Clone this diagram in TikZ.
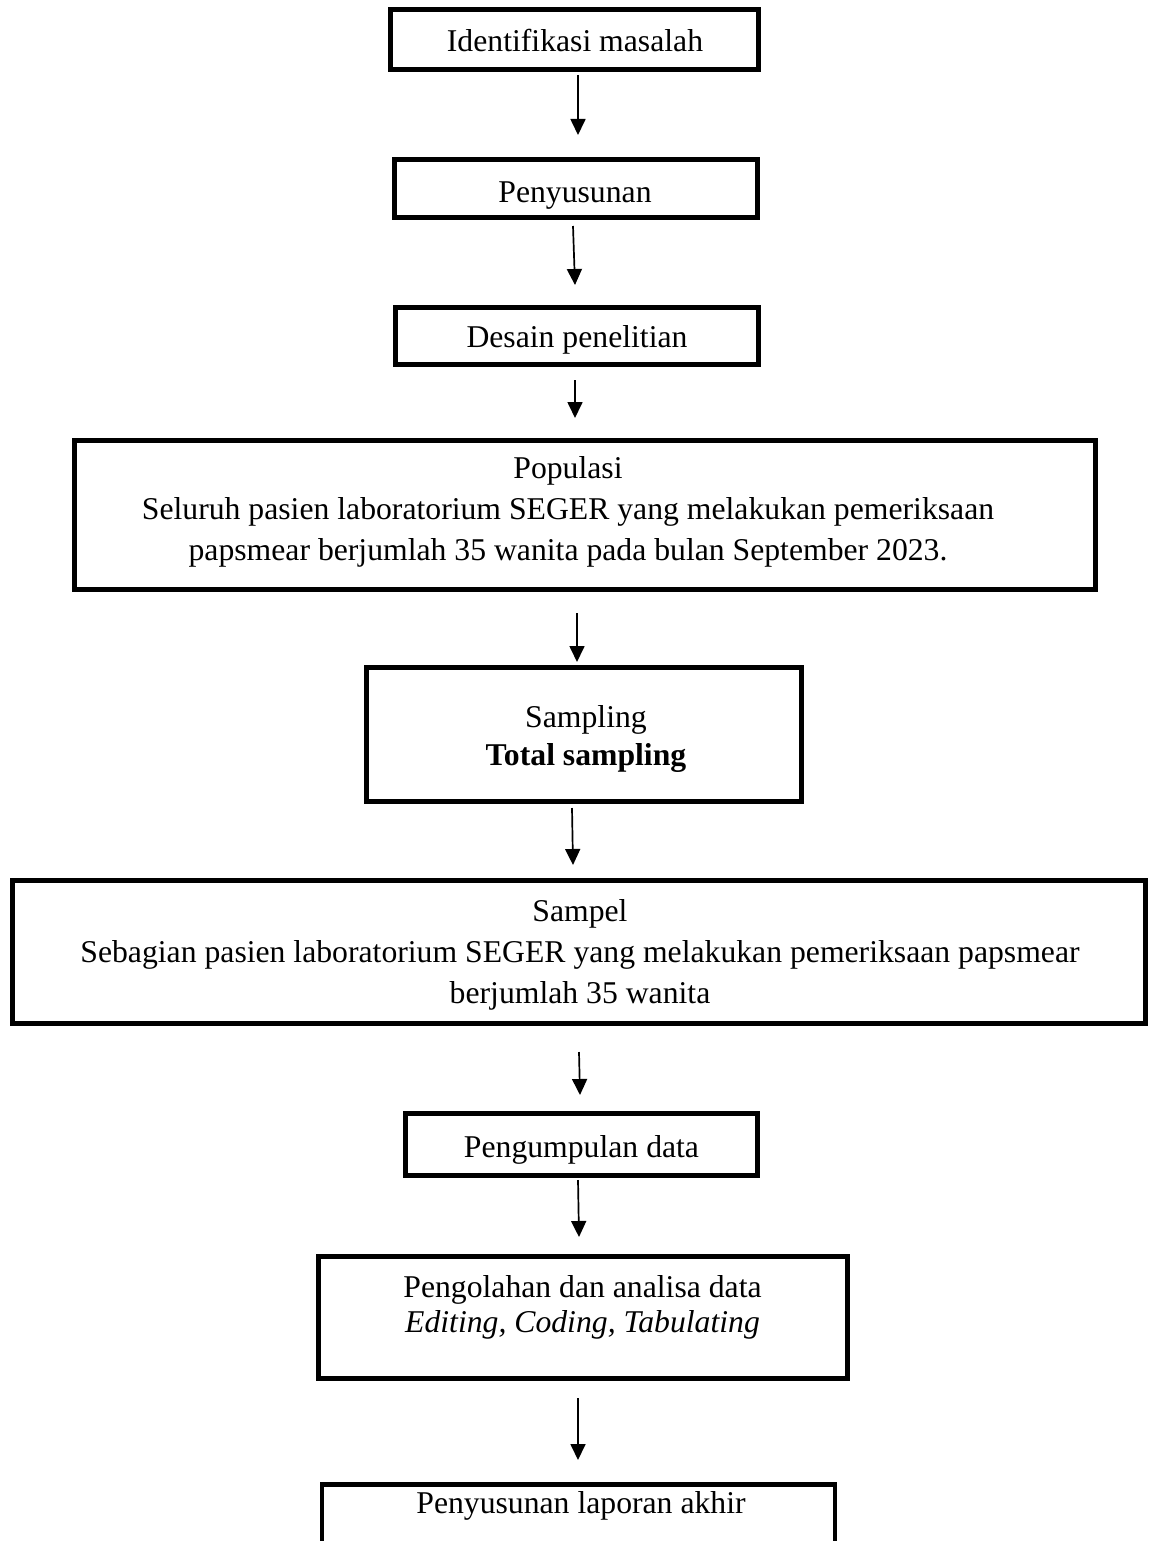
\documentclass[tikz,border=0pt]{standalone}
\usepackage{fontspec}
\setmainfont{Liberation Serif}
\usetikzlibrary{arrows.meta}
\begin{document}
\begin{tikzpicture}[x=1pt,y=-1pt,
  box/.style={draw=black, line width=4.8pt, fill=none, inner sep=0pt},
  txt/.style={align=center, inner sep=0pt, font=\fontsize{31.7}{41}\selectfont},
  arr/.style={line width=1.7pt, -{Triangle[width=15pt,length=16pt]}}]
\useasboundingbox (0,0) rectangle (1151,1541);
\clip (0,0) rectangle (1151,1541);
% boxes
\node[box, minimum width=368pt, minimum height=60pt] (b1) at (574.5,39.5) {};
\node[box, minimum width=363pt, minimum height=58pt] (b2) at (576,188.5) {};
\node[box, minimum width=363pt, minimum height=57pt] (b3) at (577,336) {};
\node[box, minimum width=1021pt, minimum height=149pt] (b4) at (585,515) {};
\node[box, minimum width=435pt, minimum height=134pt] (b5) at (584,734.5) {};
\node[box, minimum width=1133pt, minimum height=143pt] (b6) at (579,952) {};
\node[box, minimum width=352pt, minimum height=62pt] (b7) at (581.5,1144.5) {};
\node[box, minimum width=529pt, minimum height=122pt] (b8) at (583,1317.5) {};
\node[box, minimum width=513pt, minimum height=120pt, anchor=north west] (b9) at (319.5,1482) {};
% texts
\node[txt, anchor=base] (t1) at (575,52) {Identifikasi masalah};
\node[txt, anchor=base] (t2) at (575,202) {Penyusunan};
\node[txt, anchor=base] (t3) at (577,347) {Desain penelitian};
\node[txt] (t4) at (568,512) {Populasi\\Seluruh pasien laboratorium SEGER yang melakukan pemeriksaan\\papsmear berjumlah 35 wanita pada bulan September 2023.};
\node[txt, font=\fontsize{31.7}{38}\selectfont] (t5) at (586,739) {Sampling\\\textbf{Total sampling}};
\node[txt] (t6) at (580,955) {Sampel\\Sebagian pasien laboratorium SEGER yang melakukan pemeriksaan papsmear\\berjumlah 35 wanita};
\node[txt, anchor=base] (t7) at (581.5,1157) {Pengumpulan data};
\node[txt, font=\fontsize{31.7}{35}\selectfont] (t8) at (582.5,1307) {Pengolahan dan analisa data\\\textit{Editing, Coding, Tabulating}};
\node[txt, anchor=base] (t9) at (581,1513) {Penyusunan laporan akhir};
% arrow end points
\coordinate (a1s) at (578,75);   \coordinate (a1e) at (578,135);
\coordinate (a2s) at (573,226);  \coordinate (a2e) at (575,285);
\coordinate (a3s) at (575,380);  \coordinate (a3e) at (575,418);
\coordinate (a4s) at (577,613);  \coordinate (a4e) at (577,662);
\coordinate (a5s) at (572,808);  \coordinate (a5e) at (573,865);
\coordinate (a6s) at (579,1052); \coordinate (a6e) at (580,1095);
\coordinate (a7s) at (578,1180); \coordinate (a7e) at (579,1237);
\coordinate (a8s) at (578,1398); \coordinate (a8e) at (578,1460);
\draw[arr] (a1s) -- (a1e);
\draw[arr] (a2s) -- (a2e);
\draw[arr] (a3s) -- (a3e);
\draw[arr] (a4s) -- (a4e);
\draw[arr] (a5s) -- (a5e);
\draw[arr] (a6s) -- (a6e);
\draw[arr] (a7s) -- (a7e);
\draw[arr] (a8s) -- (a8e);
\end{tikzpicture}
\end{document}
